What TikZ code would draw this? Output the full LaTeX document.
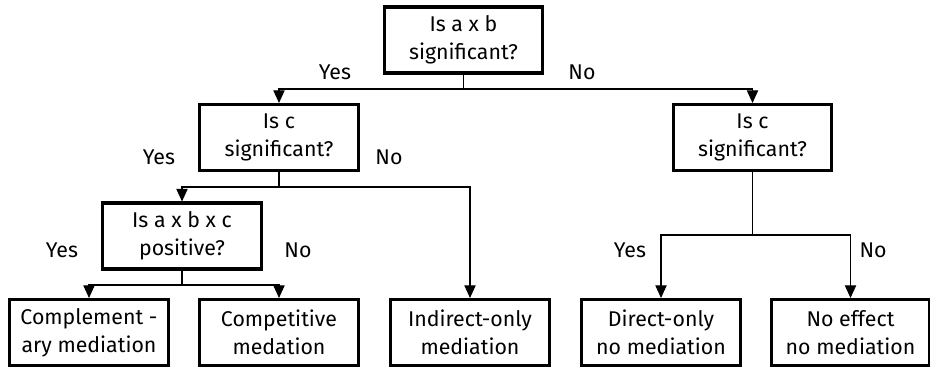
\documentclass[tikz,border=0pt]{standalone}
\usepackage{fontspec}
\setmainfont{Fira Sans}
\usetikzlibrary{arrows.meta}
\begin{document}
\begin{tikzpicture}[x=0.75pt,y=-0.75pt,
  box/.style={draw,line width=2.3pt,align=center,minimum width=119pt,minimum height=49.5pt,inner sep=0pt,
    font=\fontsize{16}{21}\selectfont},
  lbl/.style={font=\fontsize{16}{21}\selectfont,inner sep=0pt},
  conn/.style={line width=0.8pt},
  arr/.style={conn,-{Triangle[length=9.5pt,width=8.5pt]}}]
\useasboundingbox (0,0) rectangle (930,368);
\node[box] (top) at (463.5,40) {Is a x b\\significant?};
\node[box] (L1) at (279,137.5) {Is c\\significant?};
\node[box] (R1) at (752.5,137.5) {Is c\\significant?};
\node[box] (L2) at (182,236) {Is a x b x c\\positive?};
\node[box] (B1) at (89,332.5) {Complement -\\ary mediation};
\node[box] (B2) at (279,332.5) {Competitive\\medation};
\node[box] (B3) at (470,332.5) {Indirect-only\\mediation};
\node[box] (B4) at (661,332.5) {Direct-only\\no mediation};
\node[box] (B5) at (850.5,332.5) {No effect\\no mediation};
\coordinate (j1) at (463.5,89);
\coordinate (j2) at (279,187);
\coordinate (j3) at (182,285);
\coordinate (j4) at (752.5,235);
\draw[conn] (top.south) -- (j1);
\draw[arr] (j1) -| (L1.north);
\draw[arr] (j1) -| (R1.north);
\draw[conn] (L1.south) -- (j2);
\draw[arr] (j2) -| (L2.north);
\draw[arr] (j2) -| (B3.north);
\draw[conn] (L2.south) -- (j3);
\draw[arr] (j3) -| (B1.north);
\draw[arr] (j3) -| (B2.north);
\draw[conn] (R1.south) -- (j4);
\draw[arr] (j4) -| (B4.north);
\draw[arr] (j4) -| (B5.north);
\node[lbl] (y1) at (335,72) {Yes};
\node[lbl] (n1) at (582,72) {No};
\node[lbl] (y2) at (159,157) {Yes};
\node[lbl] (n2) at (389,157) {No};
\node[lbl] (y3) at (62,250) {Yes};
\node[lbl] (n3) at (298,250) {No};
\node[lbl] (y4) at (630,250) {Yes};
\node[lbl] (n4) at (873,250) {No};
\end{tikzpicture}
\end{document}
